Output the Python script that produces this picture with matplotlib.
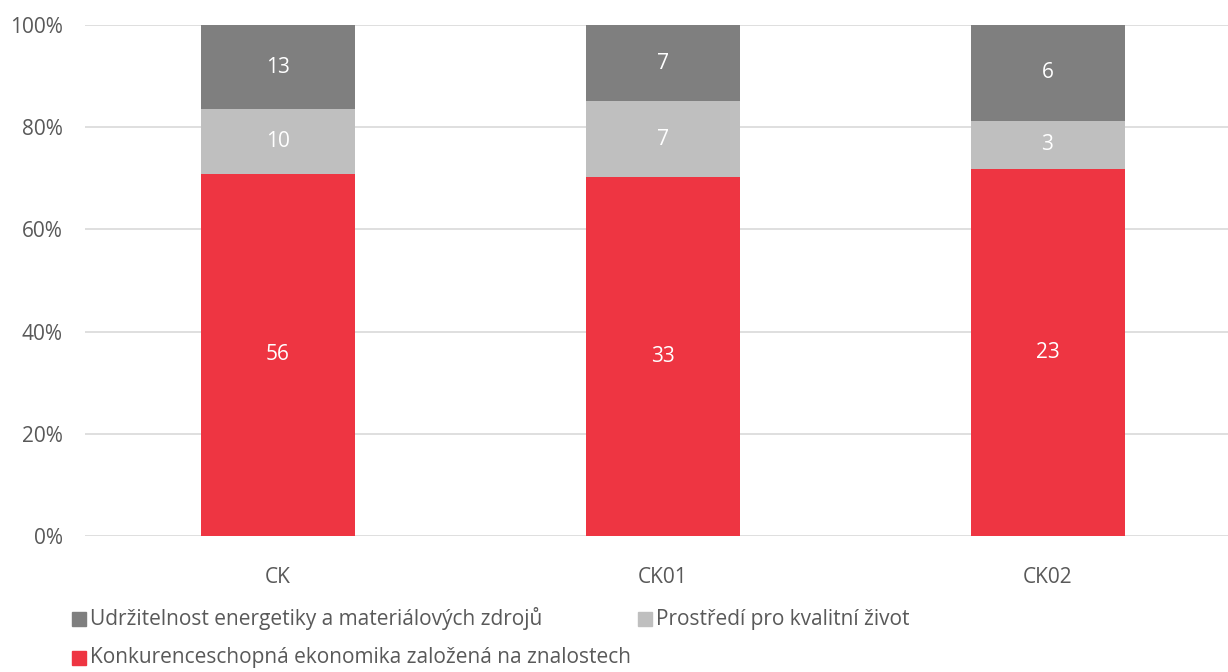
import matplotlib
matplotlib.use("Agg")
import matplotlib.pyplot as plt
from matplotlib.patches import Rectangle
import numpy as np

plt.rcParams["font.family"] = ["Open Sans", "DejaVu Sans"]

categories = ["CK", "CK01", "CK02"]
konkurence = [56, 33, 23]
prostredi = [10, 7, 3]
udrzitelnost = [13, 7, 6]

series = [
    ("Konkurenceschopná ekonomika založená na znalostech", konkurence, "#EE3542"),
    ("Prostředí pro kvalitní život", prostredi, "#BFBFBF"),
    ("Udržitelnost energetiky a materiálových zdrojů", udrzitelnost, "#7F7F7F"),
]

text_col = "#595959"
totals = np.array(konkurence) + np.array(prostredi) + np.array(udrzitelnost)

fig = plt.figure(figsize=(12.28, 6.72), dpi=100)
ax = fig.add_axes([85 / 1228, 1 - 536 / 672, 1 - 85 / 1228, 511 / 672])

x = np.arange(len(categories))
bottom = np.zeros(len(categories))
for name, vals, col in series:
    share = np.array(vals) / totals * 100
    ax.bar(x, share, width=0.4, bottom=bottom, color=col, zorder=3)
    for xi, b, s, v in zip(x, bottom, share, vals):
        ax.text(xi, b + s / 2, str(v), ha="center", va="center",
                color="white", fontsize=15, zorder=4)
    bottom += share

ax.set_xlim(-0.5, 2.5 - 12 / 385)
ax.set_ylim(0, 100)
ax.set_yticks(range(0, 101, 20))
ax.set_yticklabels([f"{t}%" for t in range(0, 101, 20)])
ax.set_xticks(x)
ax.set_xticklabels(categories)
ax.grid(axis="y", color="#D9D9D9", linewidth=1.2, zorder=0)
for sp in ax.spines.values():
    sp.set_visible(False)
ax.tick_params(length=0, labelsize=15, colors=text_col)
ax.tick_params(axis="y", pad=16)
ax.tick_params(axis="x", pad=22)

# legend drawn by hand: two entries on the first row, one on the second
legend_items = [
    (series[2], 72, 619),
    (series[1], 638, 619),
    (series[0], 72, 658),
]
for (name, vals, col), lx, ly in legend_items:
    fig.patches.append(Rectangle((lx / 1228, 1 - (ly + 7) / 672), 14 / 1228, 14 / 672,
                                 transform=fig.transFigure, color=col))
    fig.text((lx + 18) / 1228, 1 - ly / 672, name, ha="left", va="center",
             fontsize=15, color=text_col)

fig.savefig("out.png", dpi=100)
